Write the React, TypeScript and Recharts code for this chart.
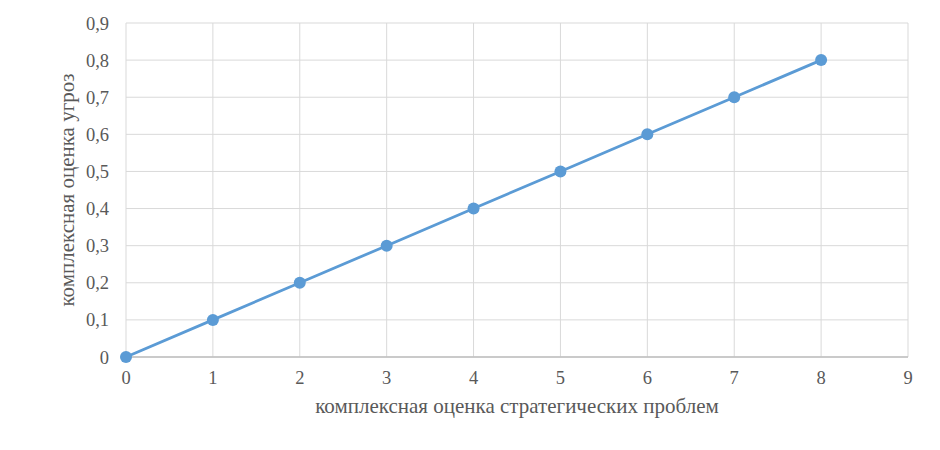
import { LineChart, Line, XAxis, YAxis, CartesianGrid, Label } from "recharts";

const strategicScores = [0, 1, 2, 3, 4, 5, 6, 7, 8];
const threatScores = [0, 0.1, 0.2, 0.3, 0.4, 0.5, 0.6, 0.7, 0.8];
const xTicks = [0, 1, 2, 3, 4, 5, 6, 7, 8, 9];
const yTicks = [0, 0.1, 0.2, 0.3, 0.4, 0.5, 0.6, 0.7, 0.8, 0.9];

const data = strategicScores.map((x, i) => ({ x, y: threatScores[i] }));

const font = "'Liberation Serif', 'Times New Roman', serif";
const tickStyle = { fontSize: 18.5, fill: "#595959" };

const fmt = (v: number) => String(Math.round(v * 10) / 10).replace(".", ",");

export default function App() {
  return (
    <div
      style={{
        position: "absolute",
        left: 0,
        top: 0,
        width: 940,
        height: 450,
        background: "#fff",
      }}
    >
      <style>{`.recharts-wrapper text, .recharts-wrapper tspan { font-family: ${font} !important; }`}</style>
      <LineChart
        width={940}
        height={450}
        data={data}
        margin={{ top: 23, right: 32, left: 0, bottom: 0 }}
      >
        <CartesianGrid stroke="#d9d9d9" strokeWidth={1} />
        <XAxis
          dataKey="x"
          type="number"
          domain={[0, 9]}
          ticks={xTicks}
          height={93}
          axisLine={{ stroke: "#bfbfbf", strokeWidth: 1.5 }}
          tickLine={false}
          tickMargin={8}
          tick={tickStyle}
        >
          <Label
            value="комплексная оценка стратегических проблем"
            position="insideTop"
            offset={41}
            fontSize={21}
            fill="#595959"
          />
        </XAxis>
        <YAxis
          type="number"
          domain={[0, 0.9]}
          ticks={yTicks}
          width={126}
          axisLine={false}
          tickLine={false}
          tickMargin={11}
          tickFormatter={fmt}
          tick={tickStyle}
        >
          <Label
            value="комплексная оценка угроз"
            angle={-90}
            position="insideLeft"
            offset={67}
            fontSize={21}
            fill="#595959"
            style={{ textAnchor: "middle" }}
          />
        </YAxis>
        <Line
          type="linear"
          dataKey="y"
          stroke="#5b9bd5"
          strokeWidth={2.8}
          dot={{ r: 6, fill: "#5b9bd5", stroke: "#5b9bd5", strokeWidth: 0 }}
          activeDot={false}
          isAnimationActive={false}
        />
      </LineChart>
    </div>
  );
}
